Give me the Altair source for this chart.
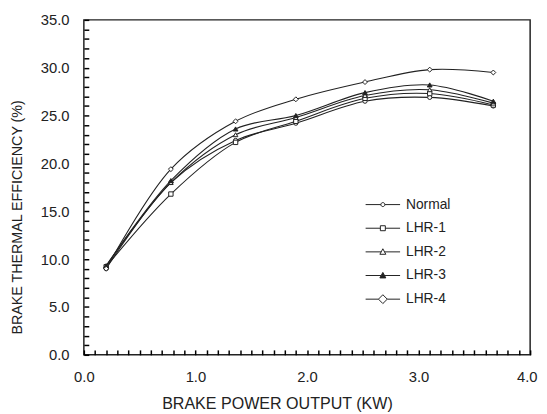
import altair as alt
import pandas as pd

# ---- data ----
power = [0.2, 0.78, 1.36, 1.9, 2.52, 3.1, 3.67]
series = ["Normal", "LHR-1", "LHR-2", "LHR-3", "LHR-4"]
normal = [9.0, 18.0, 22.4, 24.2, 26.5, 26.9, 26.0]
lhr1 = [9.2, 16.8, 22.2, 24.4, 26.8, 27.3, 26.1]
lhr2 = [9.3, 18.0, 23.0, 24.8, 27.1, 27.7, 26.3]
lhr3 = [9.3, 18.2, 23.6, 25.0, 27.4, 28.2, 26.5]
lhr4 = [9.0, 19.4, 24.4, 26.7, 28.5, 29.8, 29.5]

x_tick_values = [round(i * 0.1, 1) for i in range(41)]
y_tick_values = list(range(36))

rows = []
for name, vals in zip(series, [normal, lhr1, lhr2, lhr3, lhr4]):
    for p, v in zip(power, vals):
        rows.append({"series": name, "power": p, "bte": v})
df = pd.DataFrame(rows)

# ---- styles ----
FONT = "Liberation Sans"
INK = "#222222"
TICK = 5
plot_shapes = ["circle", "square", "triangle-up", "triangle-up", "diamond"]
plot_sizes = [18, 25, 36, 25, 110]
fills = ["white", "white", "white", INK, "white"]
strokes = [INK] * 5
legend_paths = [
    "M-2.5,0H-0.29M0.29,0H2.5M0.29,0A0.29,0.29 0 1,1 -0.29,0A0.29,0.29 0 1,1 0.29,0Z",
    "M-2.5,0H-0.36M0.36,0H2.5M-0.36,-0.36H0.36V0.36H-0.36Z",
    "M-2.5,0H-0.24M0.24,0H2.5M0,-0.45L0.43,0.35L-0.43,0.35Z",
    "M-2.5,0H-0.24M0.24,0H2.5M0,-0.45L0.43,0.35L-0.43,0.35Z",
    "M-2.5,0H-0.64M0.64,0H2.5M0,-0.64L0.64,0L0,0.64L-0.64,0Z",
]

x_axis = alt.Axis(
    values=x_tick_values, offset=-TICK, ticks=True, tickSize=TICK, tickWidth=1.5, domain=False,
    grid=False, zindex=1, tickColor="black",
    labelExpr="abs(datum.value - round(datum.value)) < 0.001 ? format(datum.value, '.1f') : ''",
    labelPadding=15, labelFontSize=15, labelFlush=False, labelOverlap=False,
    labelAlign={"condition": {"test": "datum.value > 3.99", "value": "right"}, "value": "center"},
    labelOffset={"condition": {"test": "datum.value > 3.99", "value": 7}, "value": 0},
    title="BRAKE POWER OUTPUT (KW)", titleFontSize=16.3,
    titleFontWeight="normal", titleX=196, titleY=54, titleBaseline="middle", titleAlign="center",
)
y_axis = alt.Axis(
    values=y_tick_values, offset=-TICK, ticks=True, tickSize=TICK, tickWidth=1.5, domain=False,
    grid=False, zindex=1, tickColor="black",
    labelExpr="datum.value % 5 == 0 ? format(datum.value, '.1f') : ''",
    labelPadding=15, labelFontSize=15, labelFlush=False, labelOverlap=False,
    title="BRAKE THERMAL EFFICIENCY (%)", titleFontSize=14.5,
    titleFontWeight="normal", titleX=-72, titleY=200, titleBaseline="middle", titleAlign="center",
    titleAngle=270,
)

base = alt.Chart(df).encode(
    x=alt.X("power:Q", scale=alt.Scale(domain=[0, 4], nice=False), axis=x_axis),
    y=alt.Y("bte:Q", scale=alt.Scale(domain=[0, 35], nice=False), axis=y_axis),
)

lines = base.mark_line(interpolate="catmull-rom", strokeWidth=1.1, color=INK).encode(
    detail="series:N"
)

points = base.mark_point(filled=True, stroke=INK, strokeWidth=1, opacity=1).encode(
    shape=alt.Shape("series:N", scale=alt.Scale(domain=series, range=plot_shapes), legend=None),
    fill=alt.Fill("series:N", scale=alt.Scale(domain=series, range=fills), legend=None),
    size=alt.Size("series:N", scale=alt.Scale(domain=series, range=plot_sizes), legend=None),
)

leg = alt.Legend(
    title=None, orient="none", legendX=296, legendY=180, padding=0,
    symbolSize=196, symbolStrokeColor=INK, symbolStrokeWidth=1, symbolOpacity=1,
    labelFontSize=14, labelFont=FONT, labelColor=INK, labelOffset=16, rowPadding=9,
)

legend_layer = base.mark_point(filled=True, strokeWidth=1, opacity=0).encode(
    shape=alt.Shape("series:N", scale=alt.Scale(domain=series, range=legend_paths), legend=leg),
    fill=alt.Fill("series:N", scale=alt.Scale(domain=series, range=fills), legend=leg),
    stroke=alt.Stroke("series:N", scale=alt.Scale(domain=series, range=strokes), legend=leg),
)

chart = (
    alt.layer(lines, points, legend_layer)
    .resolve_scale(shape="independent", fill="independent", size="independent", stroke="independent")
    .properties(
        width=453, height=340,
        autosize=alt.AutoSizeParams(type="none"),
        padding={"left": 77, "top": 9, "right": 9, "bottom": 55},
        background="white",
    )
    .configure_view(stroke=INK, strokeWidth=1.5)
    .configure_axis(labelFont=FONT, titleFont=FONT, labelColor=INK, titleColor=INK)
)

chart.save("out.html", embed_options={"renderer": "svg", "actions": False})
